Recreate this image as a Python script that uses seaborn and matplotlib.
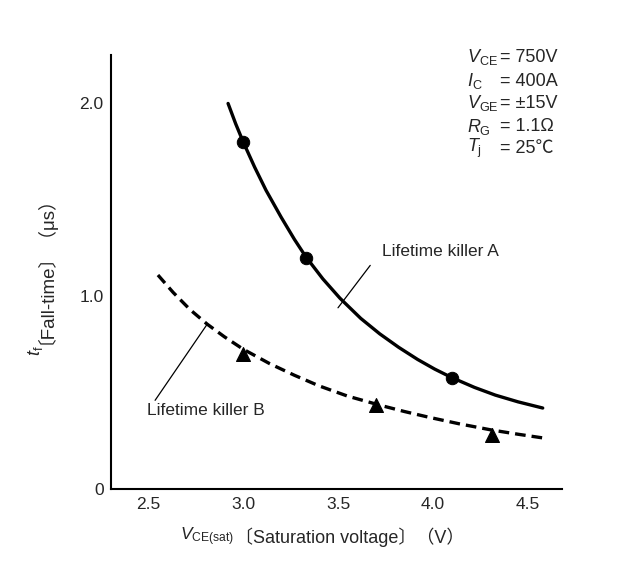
import matplotlib
matplotlib.use("Agg")
import matplotlib.pyplot as plt
import seaborn as sns

sns.set_style("white")
plt.rcParams['font.family'] = ['Liberation Sans', 'Noto Sans CJK JP', 'DejaVu Sans']
plt.rcParams['mathtext.fontset'] = 'custom'
plt.rcParams['mathtext.rm'] = 'Liberation Sans'
plt.rcParams['mathtext.it'] = 'Liberation Sans:italic'

# curve points
a_x = [2.92, 2.96, 3.00, 3.06, 3.12, 3.20, 3.27, 3.33, 3.42, 3.51,
       3.62, 3.72, 3.82, 3.92, 4.01, 4.10, 4.22, 4.33, 4.45, 4.58]
a_y = [2.00, 1.895, 1.80, 1.67, 1.55, 1.41, 1.295, 1.205, 1.09, 0.99,
       0.885, 0.805, 0.735, 0.672, 0.622, 0.578, 0.527, 0.487, 0.452, 0.42]
b_x = [2.55, 2.63, 2.72, 2.81, 2.90, 3.00, 3.14, 3.27, 3.40, 3.55,
       3.72, 3.85, 3.98, 4.14, 4.31, 4.45, 4.58]
b_y = [1.11, 1.02, 0.93, 0.855, 0.79, 0.725, 0.65, 0.59, 0.535, 0.482,
       0.435, 0.402, 0.372, 0.338, 0.306, 0.284, 0.265]

# measured points
a_pts_x = [3.00, 3.33, 4.10]
a_pts_y = [1.80, 1.20, 0.578]
b_pts_x = [3.00, 3.70, 4.31]
b_pts_y = [0.70, 0.435, 0.28]

x_ticks = [2.5, 3.0, 3.5, 4.0, 4.5]
y_ticks = [0, 1.0, 2.0]
y_ticklabels = ["0", "1.0", "2.0"]

cond_syms = [r"$V_{\mathrm{CE}}$", r"$I_{\mathrm{C}}$", r"$V_{\mathrm{GE}}$",
             r"$R_{\mathrm{G}}$", r"$T_{\mathrm{j}}$"]
cond_vals = ["= 750V", "= 400A", "= ±15V", "= 1.1Ω", "= 25℃"]

fig = plt.figure(figsize=(6.39, 5.64), dpi=100)
ax = fig.add_axes([0.173, 0.133, 0.706, 0.769])

sns.lineplot(x=a_x, y=a_y, color='black', lw=2.4, estimator=None, ax=ax)
sns.lineplot(x=b_x, y=b_y, color='black', lw=2.4, estimator=None,
             linestyle=(0, (3.2, 1.8)), ax=ax)
sns.scatterplot(x=a_pts_x, y=a_pts_y, color='black', marker='o', s=80,
                edgecolor='black', zorder=5, ax=ax)
sns.scatterplot(x=b_pts_x, y=b_pts_y, color='black', marker='^', s=100,
                edgecolor='black', zorder=5, ax=ax)

# leader lines + curve names
ax.annotate("", xy=(3.50, 0.94), xytext=(3.67, 1.16),
            arrowprops=dict(arrowstyle='-', lw=0.9, color='black', shrinkA=0, shrinkB=0))
ax.annotate("", xy=(2.81, 0.855), xytext=(2.535, 0.46),
            arrowprops=dict(arrowstyle='-', lw=0.9, color='black', shrinkA=0, shrinkB=0))
ax.text(3.73, 1.23, "Lifetime killer A", fontsize=12.5, va='center', ha='left')
ax.text(2.49, 0.405, "Lifetime killer B", fontsize=12.5, va='center', ha='left')

# test conditions
row_y = [2.24, 2.115, 2.0, 1.88, 1.765]
for sym, val, yy in zip(cond_syms, cond_vals, row_y):
    ax.text(4.18, yy, sym, fontsize=13, va='center', ha='left')
    ax.text(4.355, yy, val, fontsize=13, va='center', ha='left')

ax.set_xlim(2.30, 4.68)
ax.set_ylim(0, 2.25)
ax.set_xticks(x_ticks)
ax.set_xticklabels([f"{t:.1f}" for t in x_ticks])
ax.set_yticks(y_ticks)
ax.set_yticklabels(y_ticklabels)
ax.tick_params(axis='x', direction='in', length=6, width=1.3, pad=6, labelsize=12.5)
ax.tick_params(axis='y', direction='in', length=6.5, width=1.3, pad=5, labelsize=12.5)
sns.despine(ax=ax)
for sp in ['left', 'bottom']:
    ax.spines[sp].set_linewidth(1.5)
    ax.spines[sp].set_color('black')

# axis titles, split so the CJK brackets can use a CJK font
fig.text(0.366, 0.048, r"$V_{\mathrm{CE(sat)}}$", fontsize=12.5, ha='right', va='center')
fig.text(0.368, 0.048, "〔Saturation voltage〕（V）", fontsize=13, ha='left', va='center')
fig.text(0.056, 0.388, r"$t_{\mathrm{f}}$", fontsize=13, rotation=90, ha='center', va='top')
fig.text(0.056, 0.390, "〔Fall-time〕（μs）", fontsize=13.5, rotation=90, ha='center', va='bottom')

fig.savefig("out.png", dpi=100)
